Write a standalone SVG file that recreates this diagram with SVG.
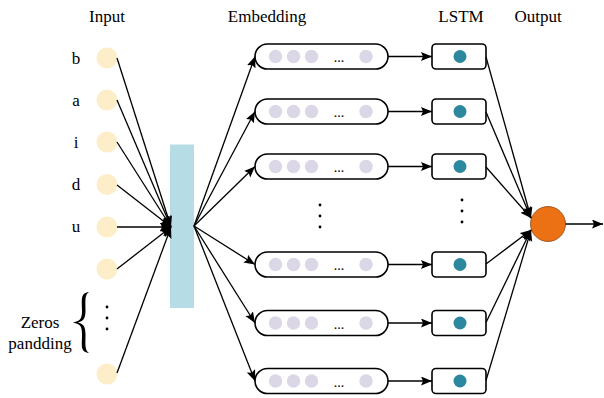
<svg xmlns="http://www.w3.org/2000/svg" width="604" height="398" viewBox="0 0 604 398">
<defs>
<marker id="ah" markerUnits="userSpaceOnUse" markerWidth="12" markerHeight="10" refX="11" refY="4.5" orient="auto">
<path d="M0,0 L11,4.5 L0,9 L2,4.5 z" fill="#000"/>
</marker>
<style>
text{font-family:"Liberation Serif","Times New Roman",serif;font-size:17px;fill:#000}
.t{text-anchor:middle}
.lt{text-anchor:middle}
.in{fill:#FDEDC9}
.emb{fill:#fff;stroke:#000;stroke-width:1.6}
.ed{fill:#DCD7E6}
.ls{fill:#fff;stroke:#000;stroke-width:1.6}
.ld{fill:#2C889E}
.c line{stroke:#000;stroke-width:1.3;fill:none}
.a{marker-end:url(#ah)}
.dot{fill:#000}
.el{font-size:14px;text-anchor:middle}
</style>
</defs>
<rect width="604" height="398" fill="#fff"/>
<g id="titles">
<text class="t" x="107" y="22">Input</text>
<text class="t" x="267" y="22">Embedding</text>
<text class="t" x="461" y="22">LSTM</text>
<text class="t" x="538" y="22">Output</text>
</g>
<g id="inputs">
<text class="lt" x="76" y="64">b</text>
<text class="lt" x="76" y="106">a</text>
<text class="lt" x="76" y="148">i</text>
<text class="lt" x="76" y="190">d</text>
<text class="lt" x="76" y="232">u</text>
<circle class="in" cx="107" cy="58" r="10.5"/>
<circle class="in" cx="107" cy="100" r="10.5"/>
<circle class="in" cx="107" cy="142" r="10.5"/>
<circle class="in" cx="107" cy="184.5" r="10.5"/>
<circle class="in" cx="107" cy="227" r="10.5"/>
<circle class="in" cx="107" cy="269" r="10.5"/>
<circle class="in" cx="107" cy="374" r="10.5"/>
<circle class="dot" cx="107" cy="307" r="1.4"/>
<circle class="dot" cx="107" cy="318" r="1.4"/>
<circle class="dot" cx="107" cy="329" r="1.4"/>
</g>
<g id="padding">
<text x="40" y="328" text-anchor="middle">Zeros</text>
<text x="40" y="349" text-anchor="middle">pandding</text>
<path d="M89,292 C80,293 82,300 82,310 C82,318 81,321 73,322.5 C81,324 82,327 82,335 C82,345 80,352 89,353 C84.5,350 85.5,344 85.5,335 C85.5,327 84,324 78,322.5 C84,321 85.5,318 85.5,310 C85.5,300 84.5,295 89,292 z" fill="#000"/>
</g>
<g id="embedding-layer">
<rect x="170" y="144.5" width="24" height="163.5" fill="#B6DCE6"/>
</g>
<g id="emb1"><rect class="emb" x="255" y="44" width="133" height="25" rx="12.5"/><circle class="ed" cx="275.5" cy="56.5" r="6.7"/><circle class="ed" cx="293.5" cy="56.5" r="6.7"/><circle class="ed" cx="311.5" cy="56.5" r="6.7"/><circle class="ed" cx="366" cy="56.5" r="6.7"/><text class="el" x="339" y="62">...</text></g>
<g id="emb2"><rect class="emb" x="255" y="99" width="133" height="25" rx="12.5"/><circle class="ed" cx="275.5" cy="111.5" r="6.7"/><circle class="ed" cx="293.5" cy="111.5" r="6.7"/><circle class="ed" cx="311.5" cy="111.5" r="6.7"/><circle class="ed" cx="366" cy="111.5" r="6.7"/><text class="el" x="339" y="117">...</text></g>
<g id="emb3"><rect class="emb" x="255" y="154" width="133" height="25" rx="12.5"/><circle class="ed" cx="275.5" cy="166.5" r="6.7"/><circle class="ed" cx="293.5" cy="166.5" r="6.7"/><circle class="ed" cx="311.5" cy="166.5" r="6.7"/><circle class="ed" cx="366" cy="166.5" r="6.7"/><text class="el" x="339" y="172">...</text></g>
<g id="emb4"><rect class="emb" x="255" y="252" width="133" height="25" rx="12.5"/><circle class="ed" cx="275.5" cy="264.5" r="6.7"/><circle class="ed" cx="293.5" cy="264.5" r="6.7"/><circle class="ed" cx="311.5" cy="264.5" r="6.7"/><circle class="ed" cx="366" cy="264.5" r="6.7"/><text class="el" x="339" y="270">...</text></g>
<g id="emb5"><rect class="emb" x="255" y="310.5" width="133" height="25" rx="12.5"/><circle class="ed" cx="275.5" cy="323" r="6.7"/><circle class="ed" cx="293.5" cy="323" r="6.7"/><circle class="ed" cx="311.5" cy="323" r="6.7"/><circle class="ed" cx="366" cy="323" r="6.7"/><text class="el" x="339" y="328.5">...</text></g>
<g id="emb6"><rect class="emb" x="255" y="368.5" width="133" height="25" rx="12.5"/><circle class="ed" cx="275.5" cy="381" r="6.7"/><circle class="ed" cx="293.5" cy="381" r="6.7"/><circle class="ed" cx="311.5" cy="381" r="6.7"/><circle class="ed" cx="366" cy="381" r="6.7"/><text class="el" x="339" y="386.5">...</text></g>
<g id="emb-dots"><circle class="dot" cx="320" cy="205" r="1.4"/><circle class="dot" cx="320" cy="216" r="1.4"/><circle class="dot" cx="320" cy="227" r="1.4"/></g>
<g id="lstm1"><rect class="ls" x="432" y="44" width="54" height="25" rx="4"/><circle class="ld" cx="460" cy="56.5" r="6.5"/></g>
<g id="lstm2"><rect class="ls" x="432" y="99" width="54" height="25" rx="4"/><circle class="ld" cx="460" cy="111.5" r="6.5"/></g>
<g id="lstm3"><rect class="ls" x="432" y="154" width="54" height="25" rx="4"/><circle class="ld" cx="460" cy="166.5" r="6.5"/></g>
<g id="lstm4"><rect class="ls" x="432" y="252" width="54" height="25" rx="4"/><circle class="ld" cx="460" cy="264.5" r="6.5"/></g>
<g id="lstm5"><rect class="ls" x="432" y="310.5" width="54" height="25" rx="4"/><circle class="ld" cx="460" cy="323" r="6.5"/></g>
<g id="lstm6"><rect class="ls" x="432" y="368.5" width="54" height="25" rx="4"/><circle class="ld" cx="460" cy="381" r="6.5"/></g>
<g id="lstm-dots"><circle class="dot" cx="462" cy="200" r="1.4"/><circle class="dot" cx="462" cy="211" r="1.4"/><circle class="dot" cx="462" cy="222" r="1.4"/></g>
<g id="output"><circle cx="548" cy="224" r="17.5" fill="#EC7014" stroke="#8a4a1a" stroke-width="0.8"/></g>
<g id="connectors" class="c">
<line class="a" x1="117" y1="58" x2="171" y2="227"/>
<line class="a" x1="117" y1="100" x2="171" y2="227"/>
<line class="a" x1="117" y1="142" x2="171" y2="227"/>
<line class="a" x1="117" y1="185" x2="171" y2="227"/>
<line class="a" x1="117" y1="227" x2="171" y2="227"/>
<line class="a" x1="117" y1="269" x2="171" y2="227"/>
<line class="a" x1="117" y1="373" x2="171" y2="227"/>
<line class="a" x1="194" y1="226" x2="255" y2="56.5"/>
<line class="a" x1="194" y1="226" x2="255" y2="111.5"/>
<line class="a" x1="194" y1="226" x2="255" y2="166.5"/>
<line class="a" x1="194" y1="226" x2="255" y2="264.5"/>
<line class="a" x1="194" y1="226" x2="255" y2="323"/>
<line class="a" x1="194" y1="226" x2="255" y2="381"/>
<line class="a" x1="388" y1="56.5" x2="432" y2="56.5"/>
<line class="a" x1="388" y1="111.5" x2="432" y2="111.5"/>
<line class="a" x1="388" y1="166.5" x2="432" y2="166.5"/>
<line class="a" x1="388" y1="264.5" x2="432" y2="264.5"/>
<line class="a" x1="388" y1="323" x2="432" y2="323"/>
<line class="a" x1="388" y1="381" x2="432" y2="381"/>
<line class="a" x1="486" y1="57" x2="531" y2="218"/>
<line class="a" x1="486" y1="112" x2="531" y2="218"/>
<line class="a" x1="486" y1="167" x2="531" y2="218"/>
<line class="a" x1="486" y1="264" x2="531" y2="230"/>
<line class="a" x1="486" y1="322.5" x2="531" y2="230"/>
<line class="a" x1="486" y1="380.5" x2="531" y2="230"/>
<line class="a" x1="565.5" y1="224" x2="603" y2="224"/>
</g>
</svg>
